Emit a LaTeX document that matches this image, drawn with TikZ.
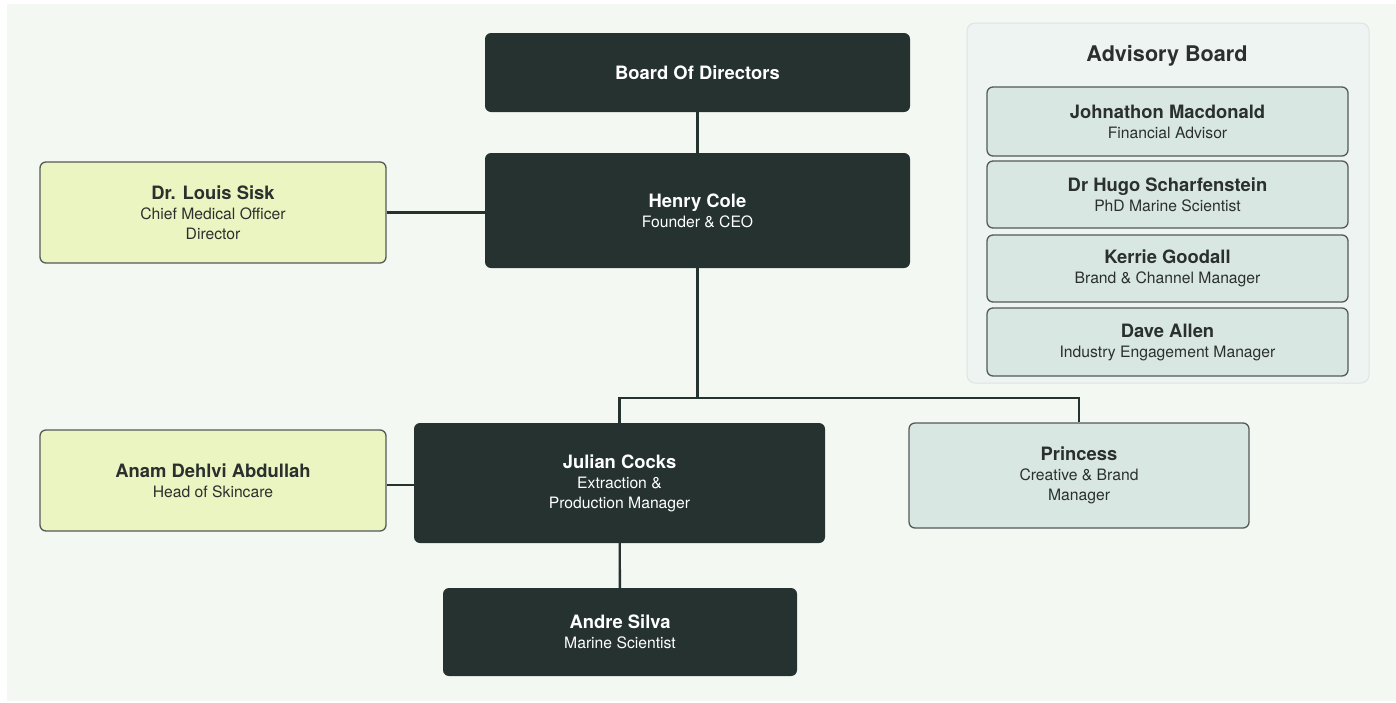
\documentclass[tikz,border=0pt]{standalone}
\usepackage{fontspec}
\setmainfont{TeX Gyre Heros}
\definecolor{pagebg}{HTML}{F3F8F3}
\definecolor{boxdark}{HTML}{253230}
\definecolor{boxlime}{HTML}{EAF5C2}
\definecolor{boxsage}{HTML}{D8E7E2}
\definecolor{panelbg}{HTML}{EEF4F2}
\definecolor{panelline}{HTML}{DCE5E2}
\definecolor{inkdark}{HTML}{2B302E}
\newcommand{\pname}[1]{{\fontsize{18.4}{20}\selectfont\bfseries #1}}

\begin{document}
\begin{tikzpicture}[x=1pt, y=-1pt,
    darkbox/.style={rectangle, rounded corners=6pt, fill=boxdark, text=white, align=center, inner sep=0pt, font=\fontsize{15.7}{20}\selectfont},
    limebox/.style={rectangle, rounded corners=6pt, draw=inkdark!80, line width=1.3pt, fill=boxlime, text=inkdark, align=center, inner sep=0pt, font=\fontsize{15.7}{20}\selectfont},
    sagebox/.style={rectangle, rounded corners=6pt, draw=inkdark!80, line width=1.3pt, fill=boxsage, text=inkdark, align=center, inner sep=0pt, font=\fontsize{15.7}{20}\selectfont},
    link/.style={draw=boxdark, line width=2.4pt}]
        \useasboundingbox (0,0) rectangle (1396,702);
        \fill[white] (0,0) rectangle (1396,702);
        \fill[pagebg] (7,4) rectangle (1396,701);

        % Nodes (top to bottom)
        \node (board) at (697.5,72.5) [darkbox, minimum width=425pt, minimum height=79pt] {\pname{Board Of Directors}};
        \node (henry) at (697.5,210.5) [darkbox, minimum width=425pt, minimum height=115pt] {\pname{Henry Cole}\\Founder \& CEO};
        \node (louis) at (213,212.5) [limebox, minimum width=346pt, minimum height=101pt] {\pname{Dr. Louis Sisk}\\Chief Medical Officer\\Director};

        \coordinate (bus) at (697.5,398);

        \node (julian) at (619.5,483) [darkbox, minimum width=411pt, minimum height=120pt] {\pname{Julian Cocks}\\Extraction \&\\Production Manager};
        \node (anam) at (213,480.5) [limebox, minimum width=346pt, minimum height=101pt] {\pname{Anam Dehlvi Abdullah}\\Head of Skincare};
        \node (princess) at (1079,475.5) [sagebox, minimum width=340pt, minimum height=105pt] {\pname{Princess}\\Creative \& Brand\\Manager};
        \node (andre) at (620,632) [darkbox, minimum width=354pt, minimum height=88pt] {\pname{Andre Silva}\\Marine Scientist};

        % Advisory panel
        \node (advisory) at (1168,203) [rectangle, rounded corners=8pt, draw=panelline, line width=1pt, fill=panelbg, minimum width=402pt, minimum height=360pt] {};
        \node (advtitle) at (1167,56) [text=inkdark, font=\fontsize{21.6}{24}\selectfont\bfseries] {Advisory Board};
        \node (johnathon) at (1167.5,121.5) [sagebox, minimum width=361pt, minimum height=69pt] {\pname{Johnathon Macdonald}\\Financial Advisor};
        \node (hugo) at (1167.5,194.5) [sagebox, minimum width=361pt, minimum height=67pt] {\pname{Dr Hugo Scharfenstein}\\PhD Marine Scientist};
        \node (kerrie) at (1167.5,268.5) [sagebox, minimum width=361pt, minimum height=67pt] {\pname{Kerrie Goodall}\\Brand \& Channel Manager};
        \node (dave) at (1167.5,342) [sagebox, minimum width=361pt, minimum height=68pt] {\pname{Dave Allen}\\Industry Engagement Manager};

        % Edges (board and CEO)
        \draw[link] (board) -- (henry);
        \draw[link] (louis) -- (louis -| henry.west);

        % Edges (CEO to managers)
        \draw[link] (henry) -- (bus);
        \draw[link] (bus) -| (julian);
        \draw[link] (bus) -| (princess);

        % Edges (manager level)
        \draw[link] (anam.east |- 0,485) -- (julian.west |- 0,485);
        \draw[link] (julian) -- (andre);
      \end{tikzpicture}
\end{document}
